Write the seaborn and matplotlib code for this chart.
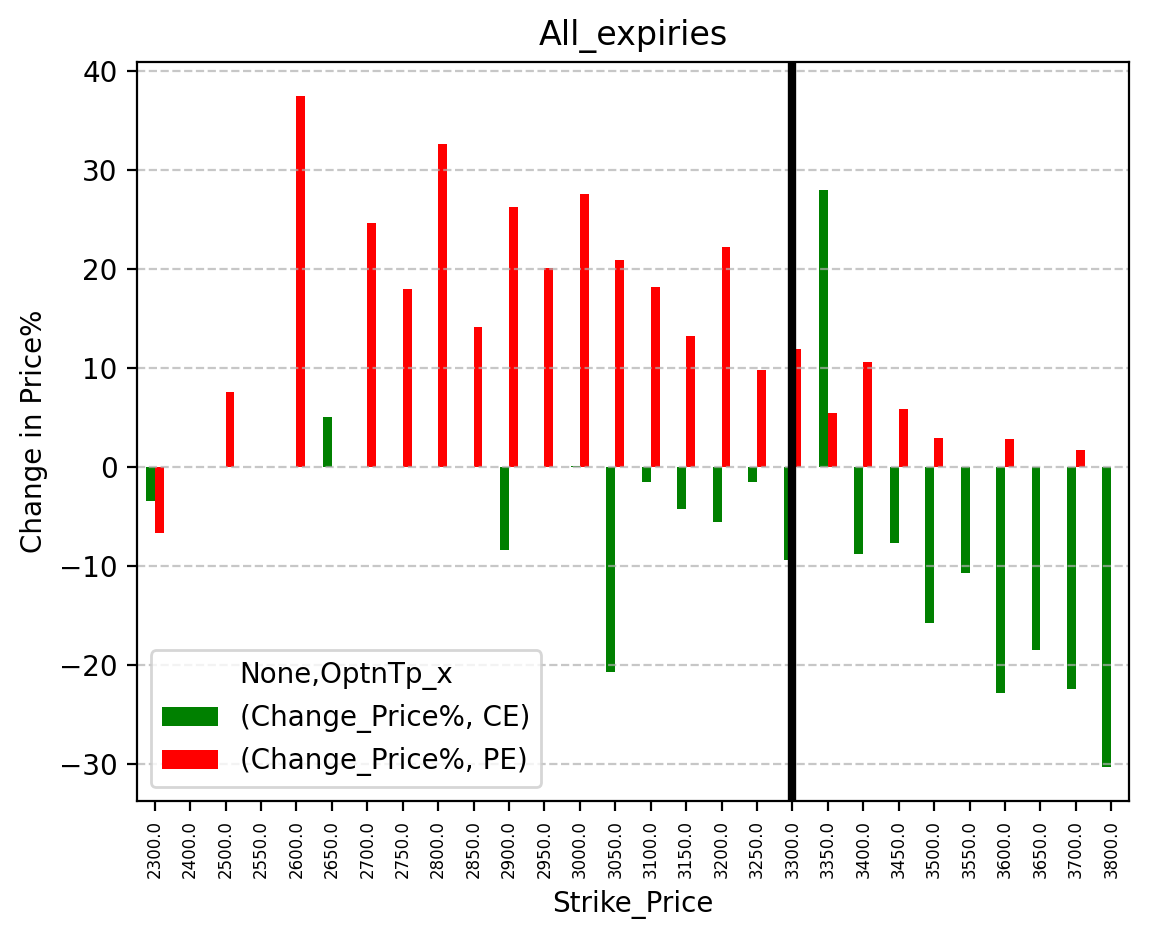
import numpy as np
import pandas as pd
import matplotlib
matplotlib.use("Agg")
import matplotlib.pyplot as plt
import seaborn as sns

strikes = [2300, 2400, 2500, 2550, 2600, 2650, 2700, 2750, 2800, 2850,
           2900, 2950, 3000, 3050, 3100, 3150, 3200, 3250, 3300, 3350,
           3400, 3450, 3500, 3550, 3600, 3650, 3700, 3800]
nan = np.nan
ce_change = [-3.4, nan, nan, nan, nan, 5.05, nan, nan, nan, nan,
             -8.35, nan, 0.15, -20.7, -1.45, -4.2, -5.5, -1.45, -9.35, 28.0,
             -8.75, -7.65, -15.7, -10.7, -22.8, -18.5, -22.4, -30.3]
pe_change = [-6.6, nan, 7.6, nan, 37.5, nan, 24.6, 18.0, 32.6, 14.1,
             26.3, 20.1, 27.6, 20.9, 18.2, 13.2, 22.2, 9.8, 11.9, 5.5,
             10.6, 5.9, 2.95, nan, 2.85, nan, 1.7, nan]
series_labels = ["(Change_Price%, CE)", "(Change_Price%, PE)"]
series_colors = ["green", "red"]
legend_title = "None,OptnTp_x"
spot_strike = 3300

tick_labels = [f"{float(s):.1f}" for s in strikes]

rows = []
for lab, vals in zip(series_labels, [ce_change, pe_change]):
    for s, v in zip(tick_labels, vals):
        rows.append({"Strike_Price": s, legend_title: lab, "Change in Price%": v})
df = pd.DataFrame(rows).dropna()

W, H, DPI = 1149, 939, 200
fig = plt.figure(figsize=(W / DPI, H / DPI), dpi=DPI)
ax = fig.add_axes([137 / W, (H - 801) / H, 992 / W, 739 / H])

sns.barplot(data=df, x="Strike_Price", y="Change in Price%", hue=legend_title,
            order=tick_labels, hue_order=series_labels,
            palette=dict(zip(series_labels, series_colors)),
            saturation=1, width=0.5, errorbar=None, linewidth=0, ax=ax)

ax.set_xlim(-0.5, len(strikes) - 0.5)
ax.axvline(tick_labels.index(f"{float(spot_strike):.1f}"), color="black", linewidth=3)
ax.grid(axis="y", linestyle="--", alpha=0.7)
ax.tick_params(axis="x", labelrotation=90, labelsize=6)
ax.set_title("All_expiries", fontsize=12)
ax.set_xlabel("Strike_Price")
ax.set_ylabel("Change in Price%")
sns.move_legend(ax, "lower left", title=legend_title)

fig.savefig("out.png", dpi=DPI)
